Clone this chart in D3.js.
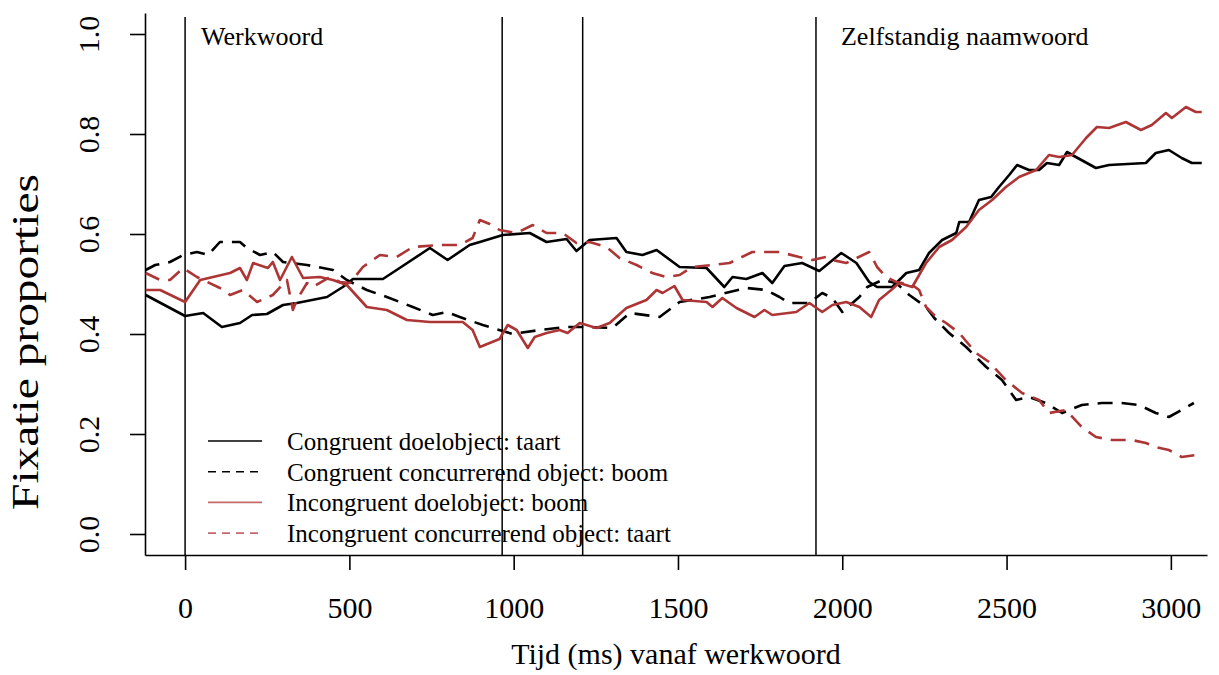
<!DOCTYPE html>
<html>
<head>
<meta charset="utf-8">
<script src="https://cdn.jsdelivr.net/npm/d3@7"></script>
<style>
  body { margin: 0; background: #fff; }
  svg { display: block; }
  text { font-family: "Liberation Serif", "Times New Roman", serif; fill: #000; }
</style>
</head>
<body>
<script>
// fixation proportions per condition, [time in ms, proportion]
var congDoel = [[-120,0.478],[0,0.436],[55,0.442],[112,0.414],[167,0.422],[204,0.438],[249,0.44],[298,0.458],[340,0.462],[432,0.474],[480,0.494],[511,0.51],[602,0.51],[653,0.532],[745,0.572],[799,0.548],[866,0.578],[897,0.584],[967,0.598],[1049,0.602],[1100,0.584],[1161,0.59],[1191,0.566],[1231,0.588],[1313,0.592],[1343,0.564],[1392,0.558],[1435,0.568],[1505,0.534],[1587,0.532],[1641,0.494],[1666,0.514],[1708,0.51],[1757,0.522],[1787,0.502],[1824,0.536],[1878,0.542],[1930,0.526],[1997,0.562],[2043,0.542],[2082,0.504],[2106,0.494],[2152,0.494],[2195,0.522],[2234,0.528],[2264,0.562],[2304,0.588],[2347,0.602],[2356,0.624],[2386,0.624],[2416,0.668],[2453,0.674],[2477,0.694],[2508,0.718],[2532,0.738],[2568,0.728],[2599,0.728],[2623,0.742],[2660,0.738],[2684,0.764],[2711,0.754],[2772,0.732],[2812,0.738],[2924,0.742],[2954,0.762],[2994,0.768],[3033,0.752],[3064,0.742],[3094,0.742]];

var congConc = [[-120,0.528],[-91,0.538],[-46,0.544],[-6,0.558],[36,0.564],[70,0.558],[106,0.584],[167,0.584],[188,0.572],[228,0.558],[267,0.564],[298,0.544],[371,0.538],[450,0.528],[492,0.508],[553,0.488],[614,0.474],[693,0.454],[754,0.438],[796,0.444],[836,0.434],[906,0.418],[936,0.412],[997,0.40],[1079,0.408],[1161,0.414],[1222,0.414],[1301,0.412],[1353,0.442],[1444,0.434],[1505,0.464],[1596,0.474],[1708,0.492],[1769,0.488],[1809,0.474],[1839,0.462],[1900,0.462],[1939,0.482],[1970,0.472],[2000,0.444],[2052,0.474],[2076,0.494],[2122,0.508],[2164,0.502],[2204,0.478],[2255,0.454],[2280,0.432],[2325,0.402],[2377,0.374],[2407,0.354],[2438,0.334],[2486,0.308],[2529,0.268],[2568,0.274],[2620,0.262],[2669,0.242],[2729,0.258],[2790,0.262],[2851,0.262],[2903,0.258],[2954,0.242],[2994,0.234],[3033,0.248],[3070,0.262]];

var incDoel = [[-120,0.488],[-76,0.488],[0,0.464],[46,0.508],[137,0.522],[167,0.532],[188,0.508],[207,0.542],[252,0.532],[267,0.544],[289,0.508],[325,0.554],[359,0.512],[410,0.514],[450,0.508],[492,0.498],[553,0.454],[614,0.448],[675,0.428],[745,0.424],[845,0.424],[875,0.408],[897,0.374],[957,0.39],[982,0.418],[1009,0.408],[1043,0.372],[1064,0.394],[1100,0.402],[1140,0.408],[1164,0.402],[1201,0.422],[1252,0.412],[1292,0.422],[1343,0.452],[1404,0.468],[1435,0.488],[1453,0.482],[1489,0.496],[1514,0.468],[1587,0.464],[1605,0.454],[1635,0.472],[1678,0.452],[1733,0.434],[1763,0.448],[1787,0.438],[1860,0.444],[1900,0.462],[1939,0.444],[1970,0.458],[2012,0.464],[2052,0.454],[2088,0.434],[2112,0.468],[2149,0.488],[2173,0.502],[2213,0.494],[2255,0.542],[2295,0.574],[2334,0.588],[2377,0.614],[2416,0.648],[2456,0.668],[2498,0.694],[2538,0.714],[2590,0.728],[2629,0.758],[2660,0.754],[2699,0.758],[2742,0.792],[2775,0.814],[2812,0.812],[2863,0.824],[2909,0.808],[2942,0.818],[2985,0.842],[3003,0.832],[3046,0.854],[3076,0.844],[3094,0.844]];

var incConc = [[-120,0.522],[-76,0.508],[-46,0.508],[-6,0.532],[36,0.514],[106,0.492],[137,0.478],[176,0.488],[219,0.464],[267,0.478],[310,0.508],[328,0.448],[340,0.468],[371,0.502],[389,0.494],[441,0.514],[471,0.504],[502,0.502],[541,0.534],[593,0.558],[644,0.554],[693,0.574],[775,0.578],[836,0.578],[875,0.592],[897,0.628],[927,0.62],[957,0.608],[1009,0.602],[1058,0.618],[1100,0.602],[1149,0.602],[1191,0.582],[1231,0.584],[1283,0.574],[1322,0.552],[1374,0.538],[1422,0.522],[1465,0.514],[1505,0.518],[1544,0.534],[1605,0.538],[1657,0.542],[1726,0.564],[1809,0.564],[1869,0.554],[1909,0.548],[1951,0.554],[1970,0.548],[2012,0.542],[2082,0.564],[2106,0.534],[2134,0.514],[2164,0.504],[2213,0.498],[2234,0.488],[2255,0.454],[2286,0.434],[2316,0.422],[2356,0.402],[2407,0.362],[2447,0.344],[2498,0.308],[2547,0.282],[2599,0.268],[2629,0.242],[2681,0.248],[2729,0.214],[2772,0.194],[2821,0.188],[2881,0.188],[2924,0.182],[2954,0.174],[2994,0.168],[3033,0.154],[3076,0.158],[3094,0.158]];

var xTicks = [0, 500, 1000, 1500, 2000, 2500, 3000];
var yTicks = [0, 0.2, 0.4, 0.6, 0.8, 1.0];
var markers = [0, 965, 1210, 1920];   // vertical event lines
var legendLabels = ["Congruent doelobject: taart", "Congruent concurrerend object: boom",
                    "Incongruent doelobject: boom", "Incongruent concurrerend object: taart"];

var rood = "#ad3535";
var reeksen = [
  { data: congDoel, kleur: "#000", streep: null },
  { data: congConc, kleur: "#000", streep: "15,9" },
  { data: incDoel,  kleur: rood,   streep: null },
  { data: incConc,  kleur: rood,   streep: "15,9" }
];

var breedte = 1219, hoogte = 675;

var svg = d3.select("body").append("svg")
  .attr("width", breedte)
  .attr("height", hoogte);

var x = d3.scaleLinear().domain([-122, 3110]).range([145, 1207]);
var y = d3.scaleLinear().domain([-0.042, 1.042]).range([555, 13]);

// x axis
var gx = svg.append("g")
  .attr("transform", "translate(0," + y.range()[0] + ")")
  .call(d3.axisBottom(x).tickValues(xTicks).tickSize(15).tickSizeOuter(0).tickFormat(d3.format("d")));
gx.selectAll("text").attr("y", 63).attr("dy", 0).style("font-size", "30px");

// y axis
var gy = svg.append("g")
  .attr("transform", "translate(" + x.range()[0] + ",0)")
  .call(d3.axisLeft(y).tickValues(yTicks).tickSize(15).tickSizeOuter(0).tickFormat(d3.format(".1f")));
gy.selectAll("text")
  .attr("transform", "rotate(-90)")
  .attr("x", 0).attr("y", -46).attr("dy", 0)
  .attr("text-anchor", "middle")
  .style("font-size", "30px");

svg.selectAll(".domain, .tick line").attr("stroke", "#000").attr("stroke-width", 1.6);

// vertical event lines
svg.selectAll("line.marker")
  .data(markers)
  .enter().append("line")
  .attr("class", "marker")
  .attr("x1", function (d) { return x(d); })
  .attr("x2", function (d) { return x(d); })
  .attr("y1", 17)
  .attr("y2", y.range()[0])
  .attr("stroke", "#000")
  .attr("stroke-width", 1.5);

// annotations
svg.append("text")
  .attr("x", x(markers[0]) + 16).attr("y", 45)
  .style("font-size", "26px")
  .text("Werkwoord");
svg.append("text")
  .attr("x", x(markers[3]) + 25).attr("y", 45)
  .style("font-size", "26px")
  .text("Zelfstandig naamwoord");

// data lines
var lijn = d3.line()
  .x(function (d) { return x(d[0]); })
  .y(function (d) { return y(d[1]); });

svg.selectAll("path.reeks")
  .data(reeksen)
  .enter().append("path")
  .attr("class", "reeks")
  .attr("d", function (d) { return lijn(d.data); })
  .attr("fill", "none")
  .attr("stroke", function (d) { return d.kleur; })
  .attr("stroke-width", 2.6)
  .attr("stroke-linejoin", "round")
  .attr("stroke-dasharray", function (d) { return d.streep; });

// legend
var legenda = svg.append("g");
legendLabels.forEach(function (label, i) {
  var by = 450 + i * 30.7;
  var r = reeksen[i];
  legenda.append("line")
    .attr("x1", 208).attr("x2", 262)
    .attr("y1", by - 9).attr("y2", by - 9)
    .attr("stroke", r.kleur === "#000" ? "#000" : "#c46a6a")
    .attr("stroke-width", 1.6)
    .attr("stroke-dasharray", r.streep ? "8,6" : null);
  legenda.append("text")
    .attr("x", 287).attr("y", by)
    .style("font-size", "25px")
    .text(label);
});

// axis titles
svg.append("text")
  .attr("x", (x.range()[0] + x.range()[1]) / 2)
  .attr("y", 664)
  .attr("text-anchor", "middle")
  .style("font-size", "30px")
  .text("Tijd (ms) vanaf werkwoord");

svg.append("text")
  .attr("transform", "translate(38," + 342 + ") rotate(-90)")
  .attr("text-anchor", "middle")
  .attr("textLength", 336)
  .attr("lengthAdjust", "spacingAndGlyphs")
  .style("font-size", "38px")
  .text("Fixatie proporties");
</script>
</body>
</html>
